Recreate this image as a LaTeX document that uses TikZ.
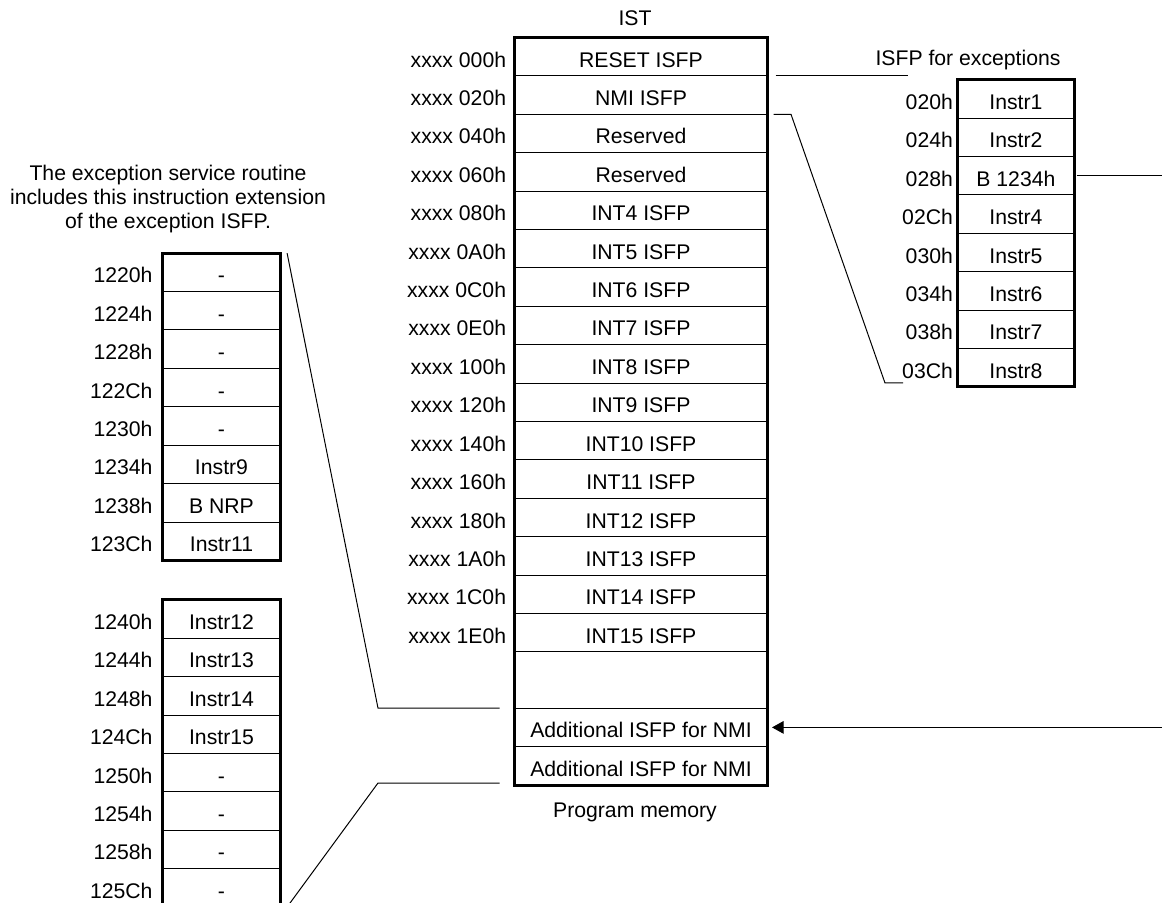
\documentclass[tikz,border=0pt]{standalone}
\usepackage{fontspec}
\setmainfont{Liberation Sans}
\usetikzlibrary{arrows.meta,positioning,calc,fit}

\begin{document}
\begin{tikzpicture}[x=0.5pt,y=-0.5pt, every node/.style={font=\fontsize{10.6}{11.8}\selectfont}, cell/.style={draw,line width=.5pt,minimum height=19.2pt,text height=10.5pt,text depth=0pt,inner sep=0pt,outer sep=0pt}, istcell/.style={cell,minimum width=126.5pt}, smcell/.style={cell,minimum width=58.6pt}, addr/.style={anchor=east,inner sep=0pt,text height=10.5pt,text depth=0pt}, frame/.style={draw,line width=1.5pt,inner sep=0pt}, ln/.style={line width=.5pt}]
\clip (0,0) rectangle (1162,903);
\foreach \a/\t [count=\i] in {000h/RESET ISFP,020h/NMI ISFP,040h/Reserved,060h/Reserved,080h/INT4 ISFP,0A0h/INT5 ISFP,0C0h/INT6 ISFP,0E0h/INT7 ISFP,100h/INT8 ISFP,120h/INT9 ISFP,140h/INT10 ISFP,160h/INT11 ISFP,180h/INT12 ISFP,1A0h/INT13 ISFP,1C0h/INT14 ISFP,1E0h/INT15 ISFP}{
  \node[istcell] (ist\i) at (641,{37.5+(\i-.5)*38.4}) {\t};
  \node[addr] (istA\i) at ([xshift=-4pt]ist\i.west) {xxxx \a};
}
\node[istcell,minimum height=28.15pt] (gap) at (641,680.05) {};
\node[istcell] (add1) at (641,727.4) {Additional ISFP for NMI};
\node[istcell] (add2) at (641,765.8) {Additional ISFP for NMI};
\node[frame,fit=(ist1)(add2)] (istF) {};
\node (istT) at (635,18) {IST};
\node (pmem) at (635,812) {Program memory};

\foreach \a/\t [count=\i] in {020h/Instr1,024h/Instr2,028h/B 1234h,02Ch/Instr4,030h/Instr5,034h/Instr6,038h/Instr7,03Ch/Instr8}{
  \node[smcell] (exc\i) at (1015.9,{79.8+(\i-.5)*38.4}) {\t};
  \node[addr] (excA\i) at ([xshift=-2pt]exc\i.west) {\a};
}
\node[frame,fit=(exc1)(exc8)] (excF) {};
\node (excT) at (968,60) {ISFP for exceptions};

\foreach \a/\t [count=\i] in {1220h/-,1224h/-,1228h/-,122Ch/-,1230h/-,1234h/Instr9,1238h/B NRP,123Ch/Instr11}{
  \node[smcell] (esr\i) at (221.5,{253.2+(\i-.5)*38.4}) {\t};
  \node[addr] (esrA\i) at ([xshift=-5pt]esr\i.west) {\a};
}
\node[frame,fit=(esr1)(esr8)] (esrF) {};
\foreach \a/\t [count=\i] in {1240h/Instr12,1244h/Instr13,1248h/Instr14,124Ch/Instr15,1250h/-,1254h/-,1258h/-,125Ch/-}{
  \node[smcell] (esrb\i) at (221.5,{599.8+(\i-.5)*38.4}) {\t};
  \node[addr] (esrbA\i) at ([xshift=-5pt]esrb\i.west) {\a};
}
\node[frame,fit=(esrb1)(esrb8)] (esrbF) {};
\node[align=center,font=\fontsize{10.6}{12.2}\selectfont] (note) at (168,199) {The exception service routine\\includes this instruction extension\\of the exception ISFP.};

\coordinate (k1) at (791,114.3);
\coordinate (k2) at (885,383);
\coordinate (k3) at (903,383);
\coordinate (k4) at (378,708.2);
\coordinate (k5) at (378,783);
\draw[ln] ([xshift=4pt]ist1.south east) -- ++(132,0);
\draw[ln] ([xshift=3pt]ist2.south east) -- (k1) -- (k2) -- (k3);
\draw[ln] ([xshift=1pt]exc3.east) -- ++(120,0);
\draw[ln,{Triangle[length=5.8pt,width=6.3pt]}-] ([xshift=2.25pt]add1.east) -- ++(420,0);
\draw[ln] ([xshift=3.5pt]esr1.north east) -- (k4) -- ([xshift=-7.5pt]gap.south west);
\draw[ln] ([xshift=-7.5pt,yshift=1pt]add2.south west) -- (k5) -- ([xshift=3.5pt]esrb8.south east);
\end{tikzpicture}
\end{document}
